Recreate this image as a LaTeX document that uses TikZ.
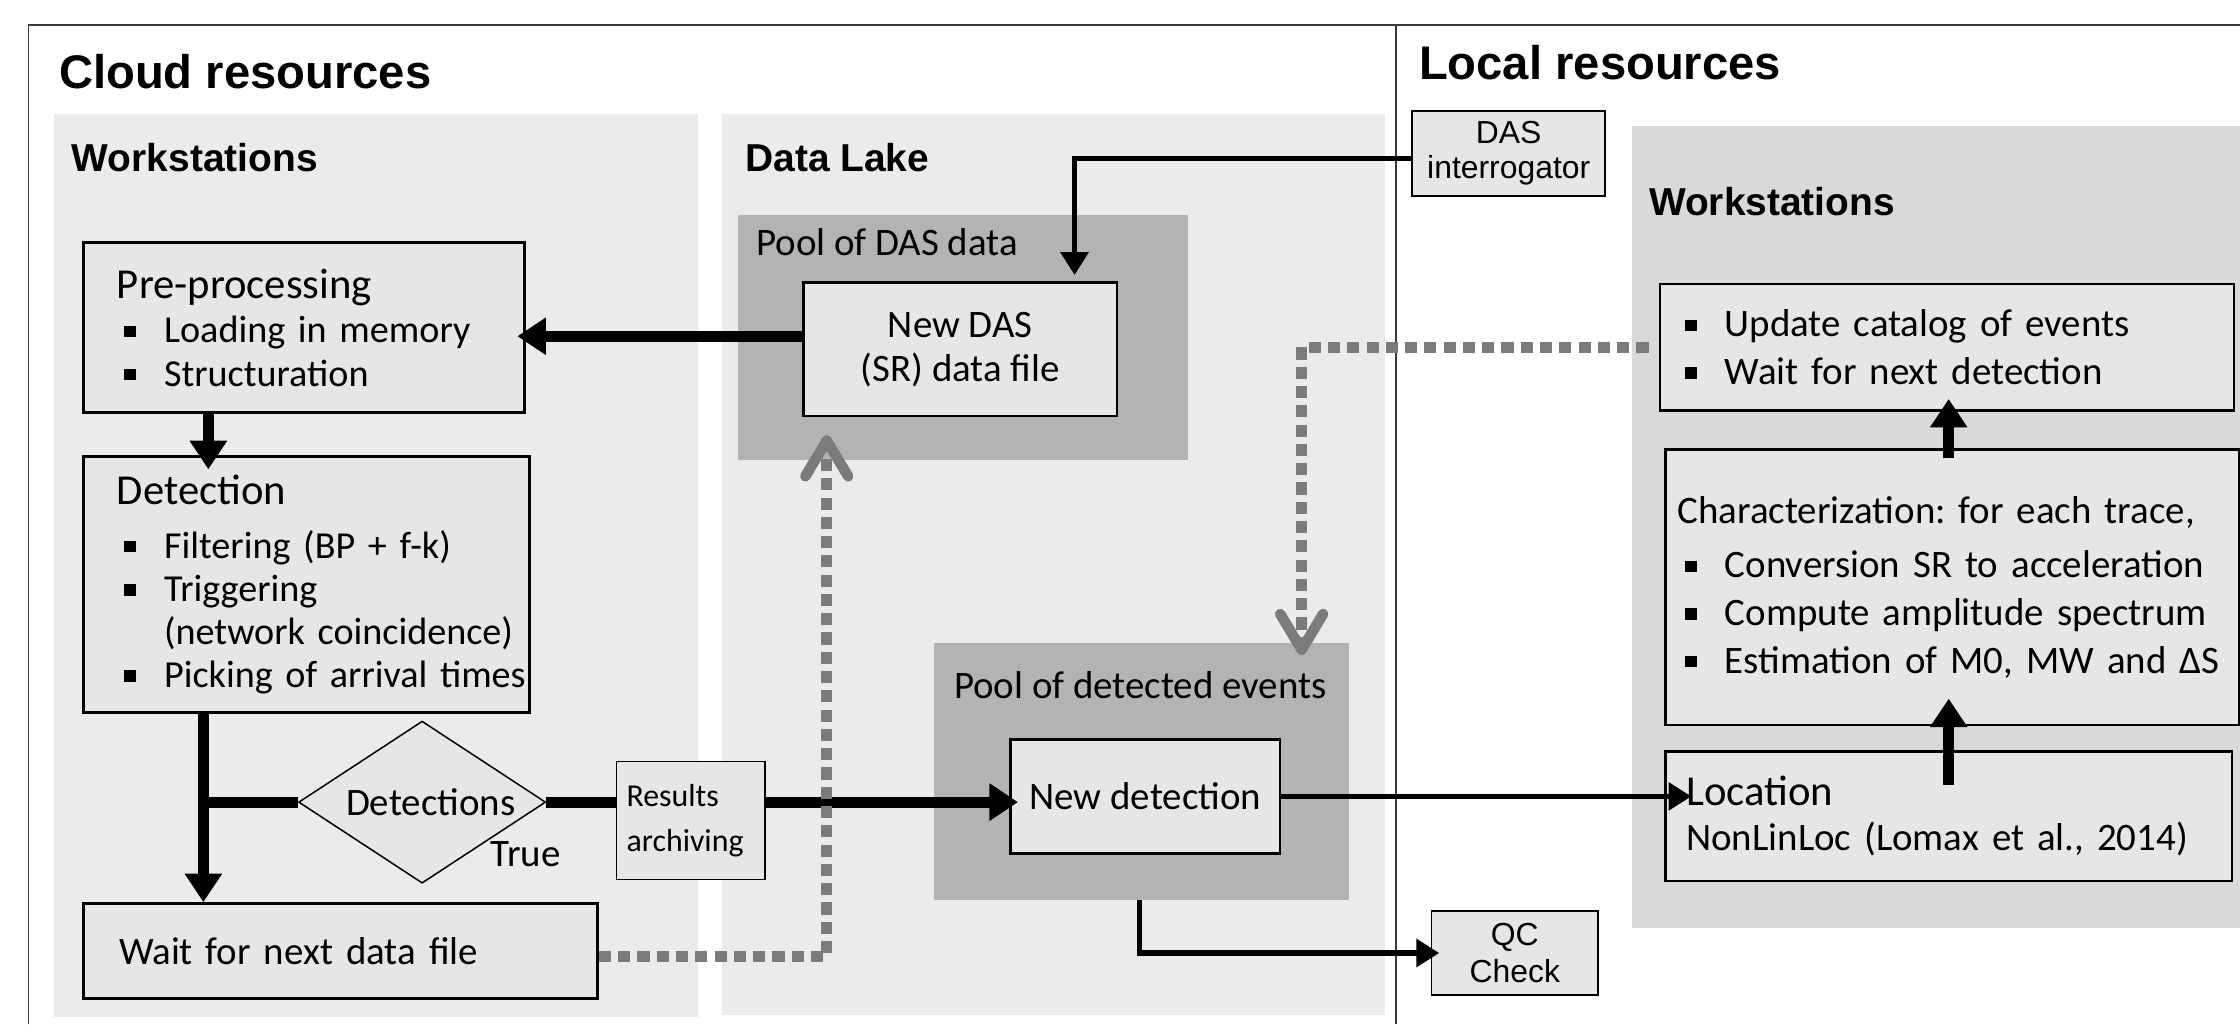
\documentclass[tikz,border=0pt]{standalone}
\usepackage{fontspec}
\setmainfont{Carlito}
\newfontfamily\arialfont{Liberation Sans}
\usetikzlibrary{arrows.meta,positioning,calc,shapes.geometric}
\frenchspacing

\definecolor{cloudbg}{HTML}{EBEBEB}
\definecolor{poolbg}{HTML}{B3B3B3}
\definecolor{localbg}{HTML}{D9D9D9}
\definecolor{boxbg}{HTML}{E6E6E6}
\definecolor{dotgray}{HTML}{7B7B7B}
\definecolor{framegray}{HTML}{3A3A3A}

\newcommand{\bul}{\makebox[0.66cm][l]{\hspace{0.1cm}\rule[0.08cm]{0.17cm}{0.16cm}}}
\newcommand{\itm}[1]{\mbox{\bul #1}}
\newcommand{\hd}[1]{\mbox{\fontsize{17}{20}\selectfont #1}}

\begin{document}
\begin{tikzpicture}[x=0.02cm, y=-0.02cm,
    panel/.style={inner sep=0pt, anchor=north west, draw=none},
    box/.style={draw=black, line width=1pt, fill=boxbg, inner sep=0pt, anchor=north west,
      font=\fontsize{15.5}{17.8}\selectfont},
    listbox/.style={box, align=left, execute at begin node={\leftskip=#1\relax}},
    smallbox/.style={box, line width=0.7pt, align=center},
    restitle/.style={inner sep=0pt, anchor=base west, font=\arialfont\bfseries\fontsize{18.8}{22}\selectfont},
    wstitle/.style={inner sep=0pt, anchor=base west, font=\arialfont\bfseries\fontsize{15.5}{18}\selectfont},
    poollabel/.style={inner sep=0pt, anchor=base west, font=\fontsize{15.5}{18}\selectfont},
    thickarrow/.style={line width=4.3pt, -{Triangle[length=0.4cm,width=0.5cm]}},
    thickline/.style={line width=4.3pt},
    medarrow/.style={line width=2.2pt, -{Triangle[length=0.32cm,width=0.38cm]}},
    dotline/.style={dotgray, line width=4.2pt, dash pattern=on 0.17cm off 0.1cm,
      -{Straight Barb[length=0.5cm,width=0.6cm,round]}}
  ]
  \useasboundingbox (0,0) rectangle (1568,717);
  \clip (0,0) rectangle (1568,717);

  % Backgrounds
  \node[panel, fill=cloudbg, minimum width=9.02cm, minimum height=12.65cm] (cloudws) at (37.5,79.3) {};
  \node[panel, fill=cloudbg, minimum width=9.28cm, minimum height=12.62cm] (lake) at (505,79.3) {};
  \node[panel, fill=poolbg, minimum width=6.3cm, minimum height=3.44cm] (pooldas) at (516.5,150) {};
  \node[panel, fill=poolbg, minimum width=5.81cm, minimum height=3.6cm] (pooldet) at (653.6,449.5) {};
  \node[panel, fill=localbg, minimum width=8.76cm, minimum height=11.22cm] (localws) at (1142,88) {};

  % Frame
  \draw[framegray, line width=0.7pt] (20,717) -- (20,17.5) -- (1568,17.5);
  \draw[framegray, line width=0.7pt] (977,17.5) -- (977,717);

  % Titles
  \node[restitle] (cloudtitle) at (41,61.8) {Cloud resources};
  \node[restitle] (localtitle) at (993,55.5) {Local resources};
  \node[wstitle] (cloudwstitle) at (50,120) {Workstations};
  \node[wstitle] (laketitle) at (521.5,120) {Data Lake};
  \node[wstitle] (localwstitle) at (1154,150.5) {Workstations};
  \node[poollabel] (pooldastitle) at (529,178.5) {Pool of DAS data};
  \node[poollabel] (pooldettitle) at (667.5,488.6) {Pool of detected events};

  % Cloud workstations
  \node[listbox=0.47cm, text width=6.18cm, minimum height=2.38cm, font=\fontsize{15.2}{17.2}\selectfont] (pre) at (57.5,169)
    {\hd{Pre-processing}\\[0.02cm] \itm{Loading in memory}\\ \itm{Structuration}};
  \node[listbox=0.47cm, text width=6.25cm, minimum height=3.59cm, font=\fontsize{15.2}{17.2}\selectfont] (det) at (57.5,318.5)
    {\hd{Detection}\\[0.15cm] \itm{Filtering (BP + f-k)}\\ \itm{Triggering}\\ \mbox{\hspace{0.66cm}(network coincidence)}\\ \itm{Picking of arrival times}};
  \node[listbox=0.5cm, text width=7.2cm, minimum height=1.33cm] (wait) at (57.5,631.5) {Wait for next data file};
  \node[draw=black, line width=0.6pt, fill=boxbg, diamond, aspect=1.52, minimum width=3.46cm, minimum height=2.27cm,
    inner sep=0pt, font=\fontsize{15.5}{18}\selectfont] (dec) at (295.5,561.5) {\hspace*{0.24cm}Detections};
  \node[poollabel] (truelabel) at (343,606.7) {True};
  \node[listbox=0.14cm, line width=0.7pt, text width=2.08cm, minimum height=1.65cm, font=\fontsize{12.7}{18}\selectfont] (res) at (431,532.5)
    {Results\\archiving};

  % Data lake
  \node[box, align=center, minimum width=4.39cm, minimum height=1.87cm] (newdas) at (561.6,197) {New DAS\\(SR) data file};
  \node[box, minimum width=3.77cm, minimum height=1.6cm] (newdet) at (706.6,516.6) {New detection};

  % Local resources
  \node[smallbox, minimum width=2.7cm, minimum height=1.19cm, font=\arialfont\fontsize{12.7}{13.9}\selectfont] (das) at (988,77) {DAS\\interrogator};
  \node[smallbox, minimum width=2.33cm, minimum height=1.18cm, font=\arialfont\fontsize{12.7}{14.8}\selectfont] (qc) at (1001.5,637) {QC\\Check};
  \node[listbox=0.25cm, text width=8.04cm, minimum height=1.77cm, font=\fontsize{15.5}{19}\selectfont] (upd) at (1161,198)
    {\itm{Update catalog of events}\\ \itm{Wait for next detection}};
  \node[listbox=0.17cm, text width=8.04cm, minimum height=3.86cm, font=\fontsize{15.5}{19}\selectfont] (char) at (1165,313.8)
    {\mbox{Characterization: for each trace,}\\[0.09cm] \itm{Conversion SR to acceleration}\\ \itm{Compute amplitude spectrum}\\ \itm{Estimation of M0, MW and ΔS}};
  \node[listbox=0.29cm, text width=7.93cm, minimum height=1.82cm, font=\fontsize{15.5}{17.8}\selectfont] (loc) at (1165,525)
    {\hd{Location}\\ NonLinLoc (Lomax et al., 2014)};

  % Connectors
  \draw[thickarrow, shorten >=-0.12cm] ([yshift=0.185cm]newdas.west) -- ([yshift=0.185cm]newdas.west -| pre.east);
  \draw[thickarrow, shorten >=-0.2cm] ([xshift=-1.34cm]pre.south) -- ([xshift=-1.34cm]pre.south |- det.north);
  \draw[thickarrow] ([xshift=-1.445cm]det.south) -- ([xshift=-1.445cm]det.south |- wait.north);
  \coordinate (fork) at ([xshift=-1.445cm]det.south |- dec.west);
  \draw[thickline] (fork) -- (dec.west);
  \draw[thickline] (dec.east) -- (dec.east -| res.west);
  \draw[thickarrow, shorten >=-0.12cm] (dec.east -| res.east) -- (dec.east -| newdet.west);
  \draw[medarrow, shorten >=-0.38cm] (newdet.east) -- (newdet.east -| loc.west);
  \draw[medarrow, shorten >=-0.12cm] ([xshift=-0.08cm]newdet.south |- pooldet.south) |- (qc.west);
  \draw[medarrow, shorten >=0.09cm] ([yshift=-0.07cm]das.west) -| ([xshift=1.6cm]newdas.north);
  \draw[dotline] ([yshift=-0.08cm]wait.east) -| ([xshift=-1.87cm,yshift=-0.25cm]newdas.south);
  \draw[dotline] ([xshift=-0.14cm]upd.west) -| ([xshift=2.24cm,yshift=-0.18cm]pooldet.north);
  \draw[thickarrow] ([yshift=-0.49cm]loc.north) -- ([yshift=0.39cm]char.south -| loc.north);
  \draw[thickarrow] ([yshift=-0.14cm]char.north -| loc.north) -- ([yshift=0.18cm]upd.south -| loc.north);
\end{tikzpicture}
\end{document}
